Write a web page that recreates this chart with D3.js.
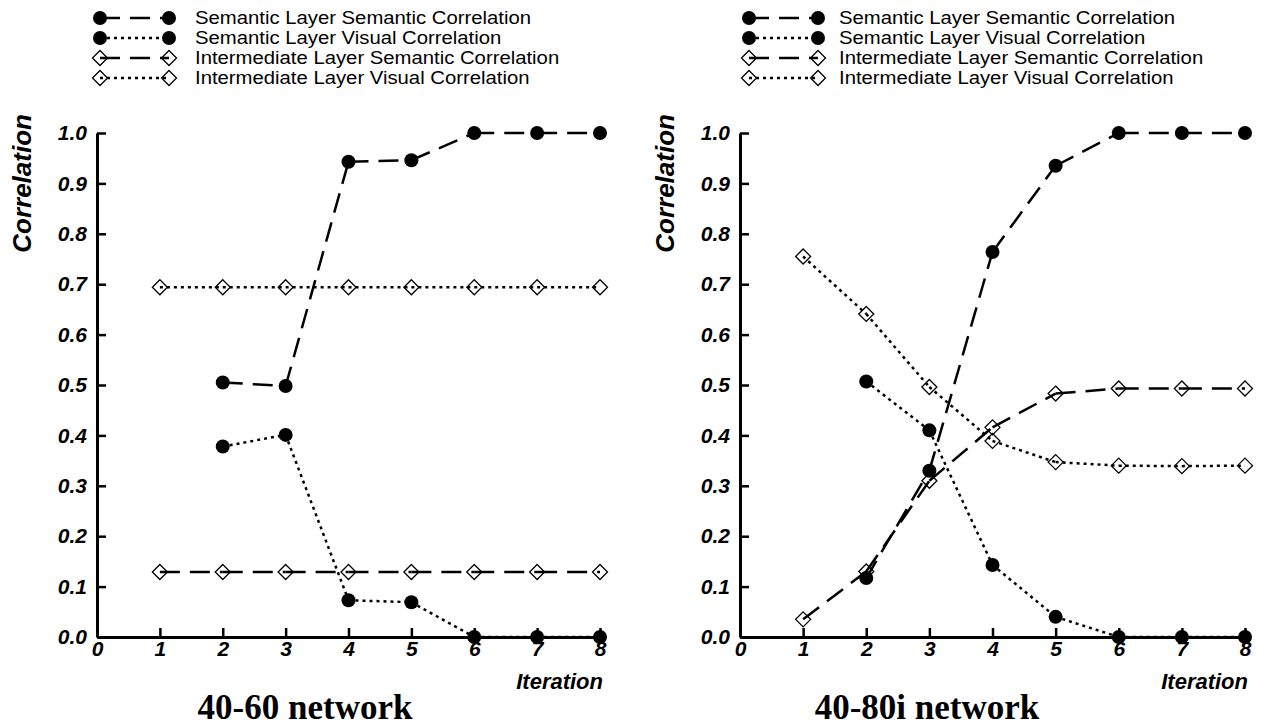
<!DOCTYPE html>
<html>
<head>
<meta charset="utf-8">
<script src="https://cdn.jsdelivr.net/npm/d3@7"></script>
<style>
  html, body { margin: 0; padding: 0; background: #fff; }
  svg { display: block; }
  .sans { font-family: "Liberation Sans", Arial, Helvetica, sans-serif; }
  .serif { font-family: "Liberation Serif", "Times New Roman", serif; }
</style>
</head>
<body>
<svg id="chart" width="1263" height="728"></svg>
<script>
// Iterations on the x axis
const iterations = [1, 2, 3, 4, 5, 6, 7, 8];
const xTicks = [0, 1, 2, 3, 4, 5, 6, 7, 8];
const yTicks = [0, 0.1, 0.2, 0.3, 0.4, 0.5, 0.6, 0.7, 0.8, 0.9, 1.0];

const seriesNames = [
  "Semantic Layer Semantic Correlation",
  "Semantic Layer Visual Correlation",
  "Intermediate Layer Semantic Correlation",
  "Intermediate Layer Visual Correlation"
];

// 40-60 network (null = no value at that iteration)
const net4060SemSem = [null, 0.505, 0.498, 0.943, 0.946, 1.0, 1.0, 1.0];
const net4060SemVis = [null, 0.378, 0.401, 0.073, 0.069, 0.0, 0.0, 0.0];
const net4060IntSem = [0.129, 0.129, 0.129, 0.129, 0.129, 0.129, 0.129, 0.129];
const net4060IntVis = [0.694, 0.694, 0.694, 0.694, 0.694, 0.694, 0.694, 0.694];

// 40-80i network
const net4080SemSem = [null, 0.117, 0.33, 0.764, 0.935, 1.0, 1.0, 1.0];
const net4080SemVis = [null, 0.507, 0.41, 0.143, 0.04, 0.0, 0.0, 0.0];
const net4080IntSem = [0.035, 0.13, 0.31, 0.416, 0.483, 0.493, 0.493, 0.493];
const net4080IntVis = [0.755, 0.641, 0.496, 0.389, 0.347, 0.34, 0.339, 0.34];

const svg = d3.select("#chart");

// line / marker styles per series
const styles = [
  { dash: "20,10", marker: "circle" },
  { dash: "3,4",   marker: "circle" },
  { dash: "20,10", marker: "diamond" },
  { dash: "3,4",   marker: "diamond" }
];

function drawMarker(g, type, x, y) {
  if (type === "circle") {
    g.append("circle").attr("cx", x).attr("cy", y).attr("r", 7).attr("fill", "#000");
  } else {
    const s = 7.5;
    g.append("path")
      .attr("d", `M${x},${y - s}L${x + s},${y}L${x},${y + s}L${x - s},${y}Z`)
      .attr("fill", "none").attr("stroke", "#000").attr("stroke-width", 1.3);
  }
}

function drawSegment(g, x1, y1, x2, y2, dash) {
  g.append("line")
    .attr("x1", x1).attr("y1", y1).attr("x2", x2).attr("y2", y2)
    .attr("stroke", "#000").attr("stroke-width", 2.5)
    .attr("stroke-dasharray", dash).attr("fill", "none");
}

function legend(x0, y0, textGap) {
  const g = svg.append("g");
  seriesNames.forEach((name, i) => {
    const y = y0 + i * 20;
    const st = styles[i];
    drawSegment(g, x0, y, x0 + 69, y, st.dash);
    drawMarker(g, st.marker, x0, y);
    drawMarker(g, st.marker, x0 + 69, y);
    // slightly widened sans text, kept within the 20px row height
    g.append("text").attr("class", "sans")
      .attr("transform", `translate(${x0 + 69 + textGap},${y + 6}) scale(1.16,1)`)
      .attr("font-size", 17.5).attr("fill", "#000")
      .text(name);
  });
}

function panel(opts) {
  const x = d3.scaleLinear().domain([0, 8]).range([opts.left, opts.right]);
  const y = d3.scaleLinear().domain([0, 1]).range([637, 133]);
  const g = svg.append("g");

  // y axis
  const ya = g.append("g").attr("transform", `translate(${x(0)},0)`)
    .call(d3.axisLeft(y).tickValues(yTicks).tickSizeInner(-9).tickSizeOuter(0)
      .tickFormat(d3.format(".1f")).tickPadding(10));
  ya.select(".domain").attr("stroke-width", 3).attr("stroke", "#000");
  ya.selectAll(".tick line").attr("stroke-width", 2.5).attr("stroke", "#000");
  ya.selectAll(".tick text").attr("class", "sans")
    .attr("font-size", 21).attr("font-weight", "bold").attr("font-style", "italic")
    .attr("fill", "#000");

  // x axis
  const xa = g.append("g").attr("transform", `translate(0,${y(0)})`)
    .call(d3.axisBottom(x).tickValues(xTicks).tickSizeInner(-9).tickSizeOuter(0)
      .tickFormat(d3.format("d")).tickPadding(4));
  xa.select(".domain").attr("stroke-width", 3).attr("stroke", "#000");
  xa.selectAll(".tick line").attr("stroke-width", 2.5).attr("stroke", "#000");
  xa.selectAll(".tick text").attr("class", "sans")
    .attr("font-size", 21).attr("font-weight", "bold").attr("font-style", "italic")
    .attr("fill", "#000");

  // axis titles
  g.append("text").attr("class", "sans")
    .attr("transform", `translate(${x(0) - 66},${y(0.9)}) rotate(-90)`)
    .attr("text-anchor", "middle")
    .attr("font-size", 26).attr("font-weight", "bold").attr("font-style", "italic")
    .text("Correlation");
  g.append("text").attr("class", "sans")
    .attr("x", x(8) + 3).attr("y", 689)
    .attr("text-anchor", "end")
    .attr("font-size", 22).attr("font-weight", "bold").attr("font-style", "italic")
    .text("Iteration");

  // chart title
  g.append("text").attr("class", "serif")
    .attr("x", opts.titleX).attr("y", 719)
    .attr("text-anchor", "middle")
    .attr("font-size", 35).attr("font-weight", "bold")
    .text(opts.title);

  // series lines, drawn one segment at a time
  const lines = g.append("g");
  const marks = g.append("g");
  opts.series.forEach((vals, si) => {
    const st = styles[si];
    const pts = iterations.map((it, i) => ({ it, v: vals[i] })).filter(p => p.v !== null);
    for (let i = 0; i < pts.length - 1; i++) {
      drawSegment(lines, x(pts[i].it), y(pts[i].v), x(pts[i + 1].it), y(pts[i + 1].v), st.dash);
    }
    pts.forEach(p => drawMarker(marks, st.marker, x(p.it), y(p.v)));
  });
}

legend(100, 18, 26);
legend(749, 18, 21);

panel({
  left: 97, right: 600, titleX: 305, title: "40-60 network",
  series: [net4060SemSem, net4060SemVis, net4060IntSem, net4060IntVis]
});
panel({
  left: 740, right: 1245, titleX: 927, title: "40-80i network",
  series: [net4080SemSem, net4080SemVis, net4080IntSem, net4080IntVis]
});
</script>
</body>
</html>
